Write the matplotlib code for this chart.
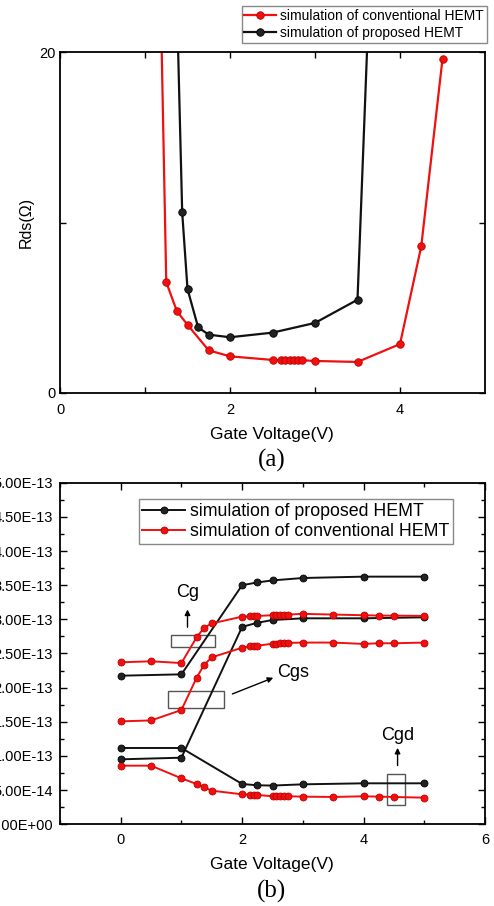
import numpy as np
import matplotlib
matplotlib.use('Agg')
import matplotlib.pyplot as plt
from matplotlib.patches import Rectangle
from matplotlib.ticker import MultipleLocator, FuncFormatter, FixedLocator

plt.rcParams['font.family'] = ['Liberation Sans', 'DejaVu Sans']

# ---------------- (a) Rds vs gate voltage ----------------
rds_conv_v = [1.0, 1.25, 1.375, 1.5, 1.75, 2.0, 2.5, 2.6, 2.65, 2.7, 2.75, 2.8, 2.85, 3.0, 3.5, 4.0, 4.25, 4.5]
rds_conv = [70, 6.5, 4.8, 4.0, 2.5, 2.15, 1.94, 1.93, 1.93, 1.92, 1.92, 1.92, 1.92, 1.88, 1.82, 2.87, 8.6, 19.6]
rds_prop_v = [1.375, 1.4375, 1.5, 1.625, 1.75, 2.0, 2.5, 3.0, 3.5, 3.75]
rds_prop = [23, 10.6, 6.1, 3.85, 3.42, 3.27, 3.54, 4.11, 5.47, 38]

# ---------------- (b) capacitances vs gate voltage ----------------
prop_v = [0, 1, 2, 2.25, 2.5, 3, 4, 5]
prop_cg = [2.175e-13, 2.195e-13, 3.50e-13, 3.54e-13, 3.57e-13, 3.605e-13, 3.625e-13, 3.625e-13]
prop_cgs = [0.951e-13, 0.975e-13, 2.89e-13, 2.95e-13, 2.99e-13, 3.015e-13, 3.015e-13, 3.03e-13]
prop_cgd = [1.117e-13, 1.117e-13, 0.59e-13, 0.571e-13, 0.567e-13, 0.585e-13, 0.60e-13, 0.60e-13]

conv_v = [0, 0.5, 1, 1.25, 1.375, 1.5, 2, 2.125, 2.1875, 2.25, 2.5, 2.5625, 2.625, 2.6875, 2.75,
          3, 3.5, 4, 4.25, 4.5, 5]
conv_cg = [2.371e-13, 2.386e-13, 2.36e-13, 2.737e-13, 2.878e-13, 2.94e-13, 3.04e-13, 3.045e-13, 3.05e-13,
           3.05e-13, 3.06e-13, 3.065e-13, 3.07e-13, 3.07e-13, 3.07e-13, 3.08e-13, 3.07e-13, 3.06e-13,
           3.055e-13, 3.055e-13, 3.05e-13]
conv_cgs = [1.507e-13, 1.52e-13, 1.673e-13, 2.146e-13, 2.336e-13, 2.444e-13, 2.585e-13, 2.605e-13, 2.61e-13,
            2.614e-13, 2.643e-13, 2.645e-13, 2.65e-13, 2.65e-13, 2.655e-13, 2.66e-13, 2.66e-13, 2.64e-13,
            2.65e-13, 2.65e-13, 2.66e-13]
conv_cgd = [0.858e-13, 0.858e-13, 0.673e-13, 0.59e-13, 0.541e-13, 0.492e-13, 0.439e-13, 0.432e-13, 0.43e-13,
            0.43e-13, 0.41e-13, 0.41e-13, 0.41e-13, 0.41e-13, 0.41e-13, 0.405e-13, 0.40e-13, 0.41e-13,
            0.405e-13, 0.40e-13, 0.39e-13]

RED = '#f01010'
BLACK = '#111111'

fig = plt.figure(figsize=(4.94, 9.06), dpi=100)

# 图(a)
ax1 = fig.add_axes([60 / 494, 1 - 393 / 906, 425 / 494, 341 / 906])
ax1.plot(rds_conv_v, rds_conv, '-o', color=RED, lw=1.6, ms=5.4,
         mfc=RED, mec='#c00000', mew=0.6, label='simulation of conventional HEMT')
ax1.plot(rds_prop_v, rds_prop, '-o', color=BLACK, lw=1.6, ms=5.4,
         mfc='#222222', mec='black', mew=0.6, label='simulation of proposed HEMT')
ax1.set_xlim(0, 5)
ax1.set_ylim(0, 20)
ax1.xaxis.set_major_locator(FixedLocator([0, 2, 4]))
ax1.xaxis.set_minor_locator(FixedLocator([1, 3]))
ax1.yaxis.set_major_locator(FixedLocator([0, 10, 20]))
ax1.yaxis.set_major_formatter(FuncFormatter(lambda v, p: '' if v == 10 else '%d' % v))
ax1.tick_params(which='both', direction='in', top=True, right=True, length=4, width=1,
                labelsize=10.5, pad=7)
ax1.tick_params(axis='y', pad=3)
for s in ax1.spines.values():
    s.set_linewidth(1.3)
ax1.set_ylabel('Rds(Ω)', fontsize=11.5, labelpad=4)
fig.text(272 / 494, 1 - 434 / 906, 'Gate Voltage(V)', ha='center', va='center', fontsize=12.5)
fig.text(272 / 494, 1 - 460 / 906, '(a)', ha='center', va='center', fontsize=18,
         family='Liberation Serif')
leg1 = ax1.legend(loc='lower right', bbox_to_anchor=(487 / 494, 1 - 43 / 906),
                  bbox_transform=fig.transFigure, borderaxespad=0, fontsize=10,
                  numpoints=1, handlelength=2.3, handletextpad=0.3, labelspacing=0.25,
                  borderpad=0.2, fancybox=False, edgecolor='#888888', framealpha=1)
leg1.get_frame().set_linewidth(1.0)

# 图(b)
ax2 = fig.add_axes([60 / 494, 1 - 824.3 / 906, 425 / 494, 341.6 / 906])
kw_p = dict(color=BLACK, lw=1.4, ms=5.0, mfc='#222222', mec='black', mew=0.6)
kw_c = dict(color=RED, lw=1.4, ms=5.0, mfc=RED, mec='#c00000', mew=0.6)
ax2.plot(prop_v, prop_cg, '-o', label='simulation of proposed HEMT', **kw_p)
ax2.plot(prop_v, prop_cgs, '-o', **kw_p)
ax2.plot(prop_v, prop_cgd, '-o', **kw_p)
ax2.plot(conv_v, conv_cg, '-o', label='simulation of conventional HEMT', **kw_c)
ax2.plot(conv_v, conv_cgs, '-o', **kw_c)
ax2.plot(conv_v, conv_cgd, '-o', **kw_c)
ax2.set_xlim(-1, 6)
ax2.set_ylim(0, 5e-13)
ax2.xaxis.set_major_locator(MultipleLocator(2))
ax2.xaxis.set_minor_locator(MultipleLocator(1))
ax2.yaxis.set_major_locator(MultipleLocator(0.5e-13))
ax2.yaxis.set_minor_locator(MultipleLocator(0.25e-13))
ax2.yaxis.set_major_formatter(FuncFormatter(lambda v, p: '%.2E' % v))
ax2.tick_params(which='major', direction='in', top=True, right=True, length=5, width=1,
                labelsize=10.5, pad=6)
ax2.tick_params(which='minor', direction='in', top=True, right=True, length=3, width=1)
ax2.tick_params(axis='y', pad=5)
for s in ax2.spines.values():
    s.set_linewidth(1.3)
fig.text(272 / 494, 1 - 865 / 906, 'Gate Voltage(V)', ha='center', va='center', fontsize=12.5)
fig.text(272 / 494, 1 - 891 / 906, '(b)', ha='center', va='center', fontsize=18,
         family='Liberation Serif')
leg2 = ax2.legend(loc='upper left', bbox_to_anchor=(138.7 / 494, 1 - 499.3 / 906),
                  bbox_transform=fig.transFigure, borderaxespad=0, fontsize=12.8,
                  numpoints=1, handlelength=2.4, handletextpad=0.3, labelspacing=0.2,
                  borderpad=0.2, fancybox=False, edgecolor='#888888', framealpha=1)
leg2.get_frame().set_linewidth(1.0)

# 标注框与箭头
box_kw = dict(fill=False, edgecolor='#555555', lw=1.0)
ax2.add_patch(Rectangle((0.82, 2.59e-13), 0.735, 0.185e-13, **box_kw))
ax2.add_patch(Rectangle((0.78, 1.698e-13), 0.92, 0.258e-13, **box_kw))
ax2.add_patch(Rectangle((4.39, 0.278e-13), 0.286, 0.454e-13, **box_kw))
arr = dict(arrowstyle='-|>', color='black', lw=1.0, mutation_scale=8)
ax2.annotate('', xy=(1.1, 3.185e-13), xytext=(1.1, 2.844e-13), arrowprops=arr)
ax2.annotate('', xy=(2.555, 2.16e-13), xytext=(1.797, 1.893e-13), arrowprops=arr)
ax2.annotate('', xy=(4.56, 1.16e-13), xytext=(4.56, 0.82e-13), arrowprops=arr)
ax2.text(1.11, 3.39e-13, 'Cg', ha='center', va='center', fontsize=13)
ax2.text(2.84, 2.225e-13, 'Cgs', ha='center', va='center', fontsize=13)
ax2.text(4.57, 1.307e-13, 'Cgd', ha='center', va='center', fontsize=13)

fig.savefig('out.png', dpi=100)
